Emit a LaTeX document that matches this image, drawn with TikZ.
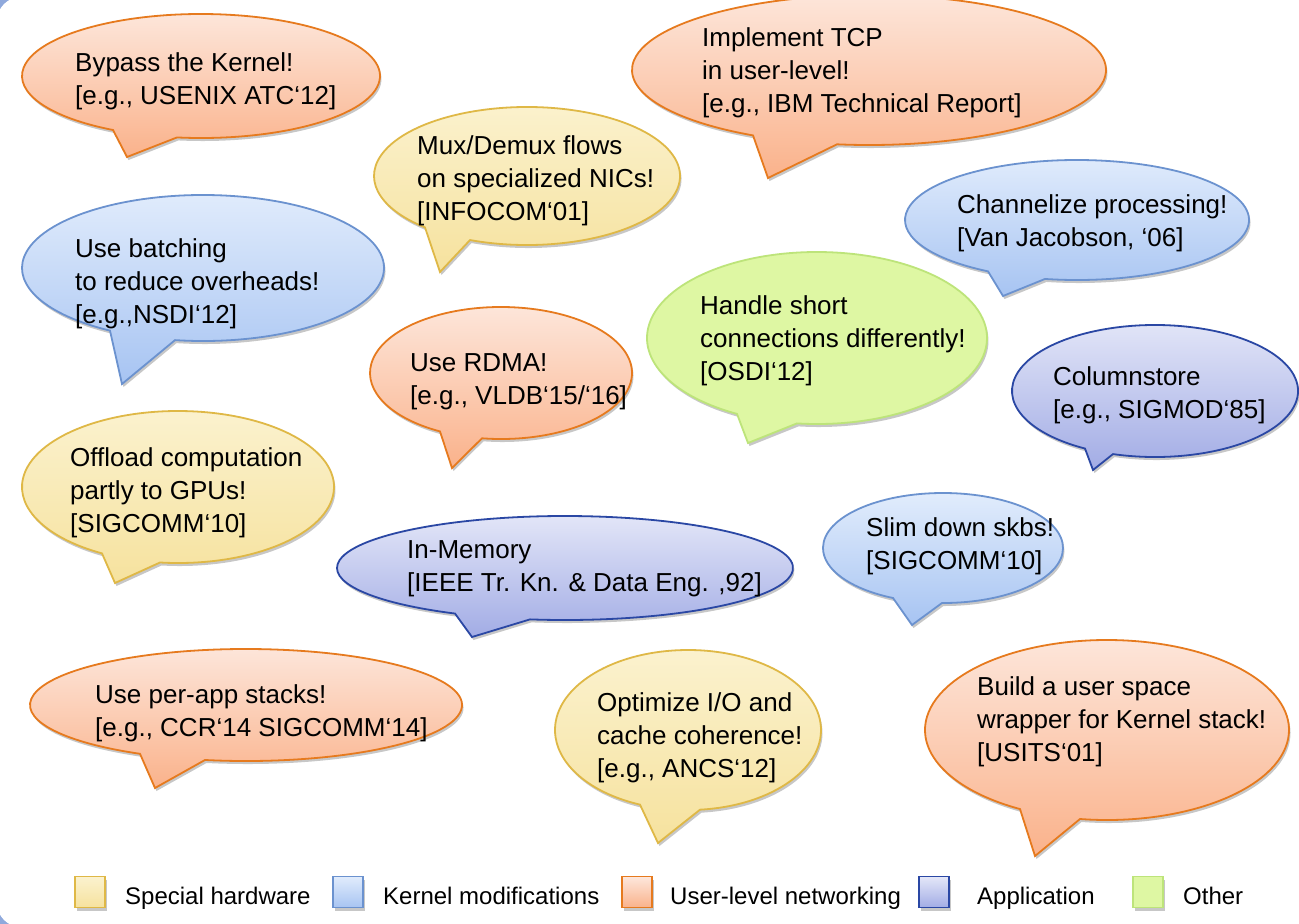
\documentclass[tikz,border=0pt]{standalone}
\usepackage{fontspec}
\setmainfont{Liberation Sans}
\usetikzlibrary{shadows}
\definecolor{uTop}{HTML}{FDE7DC}
\definecolor{uBot}{HTML}{FAB28B}
\definecolor{uBd}{HTML}{E67A1E}
\definecolor{sTop}{HTML}{FBF2CF}
\definecolor{sBot}{HTML}{F6E29E}
\definecolor{sBd}{HTML}{DFB846}
\definecolor{kTop}{HTML}{E1ECFC}
\definecolor{kBot}{HTML}{A7C4F2}
\definecolor{kBd}{HTML}{6B92CF}
\definecolor{aTop}{HTML}{E4E7F8}
\definecolor{aBot}{HTML}{A2ACE5}
\definecolor{aBd}{HTML}{2A47A4}
\definecolor{oFill}{HTML}{DEF7A3}
\definecolor{oBd}{HTML}{BDE47A}
\definecolor{frame}{HTML}{8FA9DC}
\tikzset{
  bshadow/.style={drop shadow={opacity=0.22,shadow xshift=1.5pt,shadow yshift=-3pt,fill=black}},
  user/.style={bshadow,draw=uBd,line width=1.8pt,top color=uTop,bottom color=uBot},
  spec/.style={bshadow,draw=sBd,line width=1.8pt,top color=sTop,bottom color=sBot},
  kern/.style={bshadow,draw=kBd,line width=1.8pt,top color=kTop,bottom color=kBot},
  appl/.style={bshadow,draw=aBd,line width=1.8pt,top color=aTop,bottom color=aBot},
  othr/.style={bshadow,draw=oBd,line width=1.8pt,fill=oFill},
  txt/.style={anchor=west,align=left,inner sep=0pt,font=\fontsize{26}{33}\selectfont},
  legtxt/.style={anchor=base west,inner sep=0pt,font=\fontsize{24}{28}\selectfont},
  legbox/.style={minimum width=30pt,minimum height=31pt,inner sep=0pt,line width=1.6pt}
}
% #1 style, #2 cx, #3 cy, #4 rx, #5 ry, #6 xa, #7 xb, #8 tip x, #9 tip y  (image coordinates)
\newcommand{\speech}[9]{%
  \pgfmathsetmacro\spta{-acos((#6-#2)/#4)}%
  \pgfmathsetmacro\sptb{-acos((#7-#2)/#4)}%
  \pgfmathsetmacro\sptc{\spta+360}%
  \path[#1] ({#2+#4*cos(\spta)},{-#3+#5*sin(\spta)}) -- (#8,-#9) --
    ({#2+#4*cos(\sptb)},{-#3+#5*sin(\sptb)})
    arc[start angle=\sptb,end angle=\sptc,x radius=#4pt,y radius=#5pt] -- cycle;}
\begin{document}
\begin{tikzpicture}[x=1pt,y=1pt]
\useasboundingbox (0,0) rectangle (1299,-924);
\fill[frame] (0,0) rectangle (1299,-924);
\fill[white,rounded corners=24pt] (-3,3) rectangle (1400,-927);

% bubbles
\speech{user}{201}{76}{179}{62}{113}{177}{127}{157}
\speech{user}{869}{70}{237}{75}{753}{837}{768}{178}
\speech{spec}{527}{176}{153}{69}{425}{470}{440}{272}
\speech{kern}{1077}{220}{172}{60}{988}{1045}{1003}{296}
\speech{kern}{203}{268}{181}{73}{110}{175}{122}{384}
\speech{user}{501}{373}{131}{66}{440}{482}{452}{468}
\speech{othr}{817}{338}{170}{86}{737}{797}{748}{443}
\speech{appl}{1155}{391}{143}{66}{1085}{1113}{1093}{470}
\speech{spec}{178}{487}{156}{76}{102}{160}{115}{583}
\speech{appl}{565}{568}{228}{52}{455}{530}{472}{637}
\speech{kern}{943}{548}{120}{55}{893}{942}{912}{625}
\speech{user}{246}{705}{216}{56}{140}{205}{155}{788}
\speech{spec}{688}{730}{133}{80}{640}{700}{658}{843}
\speech{user}{1107}{730}{182}{90}{1020}{1080}{1035}{856}

% texts
\node[txt] (t1) at (75,-81.5) {Bypass the Kernel!\\{}[e.g., USENIX ATC‘12]};
\node[txt] (t2) at (702,-72.5) {Implement TCP\\in user-level!\\{}[e.g., IBM Technical Report]};
\node[txt] (t3) at (417,-180.5) {Mux/Demux flows\\on specialized NICs!\\{}[INFOCOM‘01]};
\node[txt] (t4) at (957,-223) {Channelize processing!\\{}[Van Jacobson, ‘06]};
\node[txt] (t5) at (75,-283.5) {Use batching\\to reduce overheads!\\{}[e.g.,NSDI‘12]};
\node[txt] (t6) at (410,-382) {Use RDMA!\\{}[e.g., VLDB‘15/‘16]};
\node[txt] (t7) at (700,-340.5) {Handle short\\connections differently!\\{}[OSDI‘12]};
\node[txt] (t8) at (1053,-395.5) {Columnstore\\{}[e.g., SIGMOD‘85]};
\node[txt] (t9) at (70,-492.5) {Offload computation\\partly to GPUs!\\{}[SIGCOMM‘10]};
\node[txt] (t10) at (407,-569) {In-Memory\\{}[IEEE Tr. Kn. \& Data Eng. ,92]};
\node[txt] (t11) at (866,-546.5) {Slim down skbs!\\{}[SIGCOMM‘10]};
\node[txt] (t12) at (95,-713.5) {Use per-app stacks!\\{}[e.g., CCR‘14 SIGCOMM‘14]};
\node[txt] (t13) at (597,-737.5) {Optimize I/O and\\cache coherence!\\{}[e.g., ANCS‘12]};
\node[txt] (t14) at (977,-722) {Build a user space\\wrapper for Kernel stack!\\{}[USITS‘01]};

% legend
\node[legbox,spec] (l1) at (90,-892) {};
\node[legtxt] (lt1) at (125,-904) {Special hardware};
\node[legbox,kern] (l2) at (348,-892) {};
\node[legtxt] (lt2) at (383,-904) {Kernel modifications};
\node[legbox,user] (l3) at (637,-892) {};
\node[legtxt] (lt3) at (670,-904) {User-level networking};
\node[legbox,appl] (l4) at (934,-892) {};
\node[legtxt] (lt4) at (977,-904) {Application};
\node[legbox,othr] (l5) at (1148,-892) {};
\node[legtxt] (lt5) at (1183,-904) {Other};
\end{tikzpicture}
\end{document}
